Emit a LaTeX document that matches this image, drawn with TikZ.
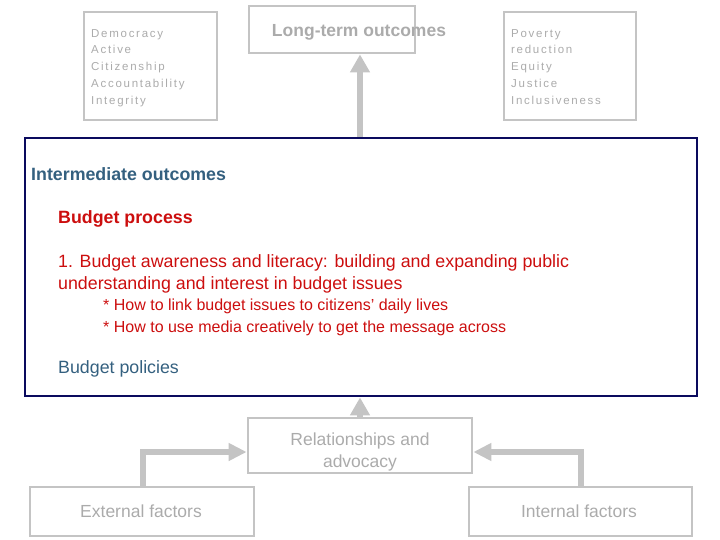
\documentclass[tikz,border=0pt]{standalone}
\usepackage{fontspec}
\setmainfont{Liberation Sans}
\newfontfamily\spacedfont[LetterSpace=15]{Liberation Sans}
\usetikzlibrary{arrows.meta}
\definecolor{boxgray}{HTML}{C4C4C4}
\definecolor{txtgray}{HTML}{ABABAB}
\definecolor{navy}{HTML}{0A0A5E}
\definecolor{steel}{HTML}{34607F}
\definecolor{bred}{HTML}{CC0E0E}
\begin{document}
\begin{tikzpicture}[x=1pt,y=-1pt,
  graybox/.style={draw=boxgray,line width=2.8pt,inner sep=0pt},
  smalltxt/.style={text=txtgray,font=\spacedfont\fontsize{11.5}{14}\selectfont,anchor=base west,inner sep=0pt},
  maintxt/.style={anchor=base west,inner sep=0pt,font=\fontsize{17.8}{20}\selectfont},
  boldtxt/.style={anchor=base west,inner sep=0pt,font=\bfseries\fontsize{17.8}{20}\selectfont},
  bullettxt/.style={anchor=base west,inner sep=0pt,text=bred,font=\fontsize{16}{20}\selectfont},
  graytxt/.style={anchor=base,inner sep=0pt,text=txtgray,font=\fontsize{17.5}{20}\selectfont},
  bigarrow/.style={draw=boxgray,line width=5.5pt,-{Triangle[width=19pt,length=18pt]}},
  elbowarrow/.style={draw=boxgray,line width=6.5pt,-{Triangle[width=17pt,length=18pt]}}]
\useasboundingbox (0,0) rectangle (720,540);
% top boxes
\node[graybox,minimum width=133pt,minimum height=108pt] (dem) at (150.5,66) {};
\node[smalltxt] (d1) at (91,37.5) {Democracy};
\node[smalltxt] (d2) at (91,54) {Active};
\node[smalltxt] (d3) at (91,71) {Citizenship};
\node[smalltxt] (d4) at (91,88) {Accountability};
\node[smalltxt] (d5) at (91,104.5) {Integrity};
\node[graybox,minimum width=166pt,minimum height=47pt] (lto) at (332,29.5) {};
\node[graytxt,font=\bfseries\fontsize{17.5}{20}\selectfont] (ltotxt) at (359,36.5) {Long-term outcomes};
\node[graybox,minimum width=132pt,minimum height=108pt] (pov) at (570,66) {};
\node[smalltxt] (p1) at (511,37.5) {Poverty};
\node[smalltxt] (p2) at (511,54) {reduction};
\node[smalltxt] (p3) at (511,71) {Equity};
\node[smalltxt] (p4) at (511,88) {Justice};
\node[smalltxt] (p5) at (511,104.5) {Inclusiveness};
% big box
\node[draw=navy,line width=2.8pt,minimum width=672pt,minimum height=258pt,inner sep=0pt] (mid) at (361,267) {};
\node[boldtxt,text=steel] (io) at (31,181) {Intermediate outcomes};
\node[boldtxt,text=bred] (bp) at (58,223.5) {Budget process};
\node[maintxt,text=bred] (aw1) at (58,267) {1. Budget awareness and literacy: building and expanding public};
\node[maintxt,text=bred] (aw2) at (58,289) {understanding and interest in budget issues};
\node[bullettxt] (b1) at (103,310) {* How to link budget issues to citizens' daily lives};
\node[bullettxt] (b2) at (103,332) {* How to use media creatively to get the message across};
\node[maintxt,text=steel] (bpol) at (58,373) {Budget policies};
% bottom boxes
\node[graybox,minimum width=224pt,minimum height=55pt] (rel) at (360,445.5) {};
\node[graytxt] (r1) at (360,445.5) {Relationships and};
\node[graytxt] (r2) at (360,467.5) {advocacy};
\node[graybox,minimum width=224pt,minimum height=49pt] (ext) at (142,511.5) {};
\node[graytxt] (extt) at (141,517) {External factors};
\node[graybox,minimum width=223pt,minimum height=49pt] (int) at (580.5,511.5) {};
\node[graytxt] (intt) at (579,517) {Internal factors};
% arrows
\coordinate (elb) at (0,452);
\draw[bigarrow] (mid.north -| 360,0) -- (lto.south -| 360,0);
\draw[bigarrow] (rel.north -| 360,0) -- (mid.south -| 360,0);
\draw[elbowarrow] (ext.north -| 143,0) |- (rel.west |- elb);
\draw[elbowarrow] (int.north -| 581,0) |- (rel.east |- elb);
\end{tikzpicture}
\end{document}
